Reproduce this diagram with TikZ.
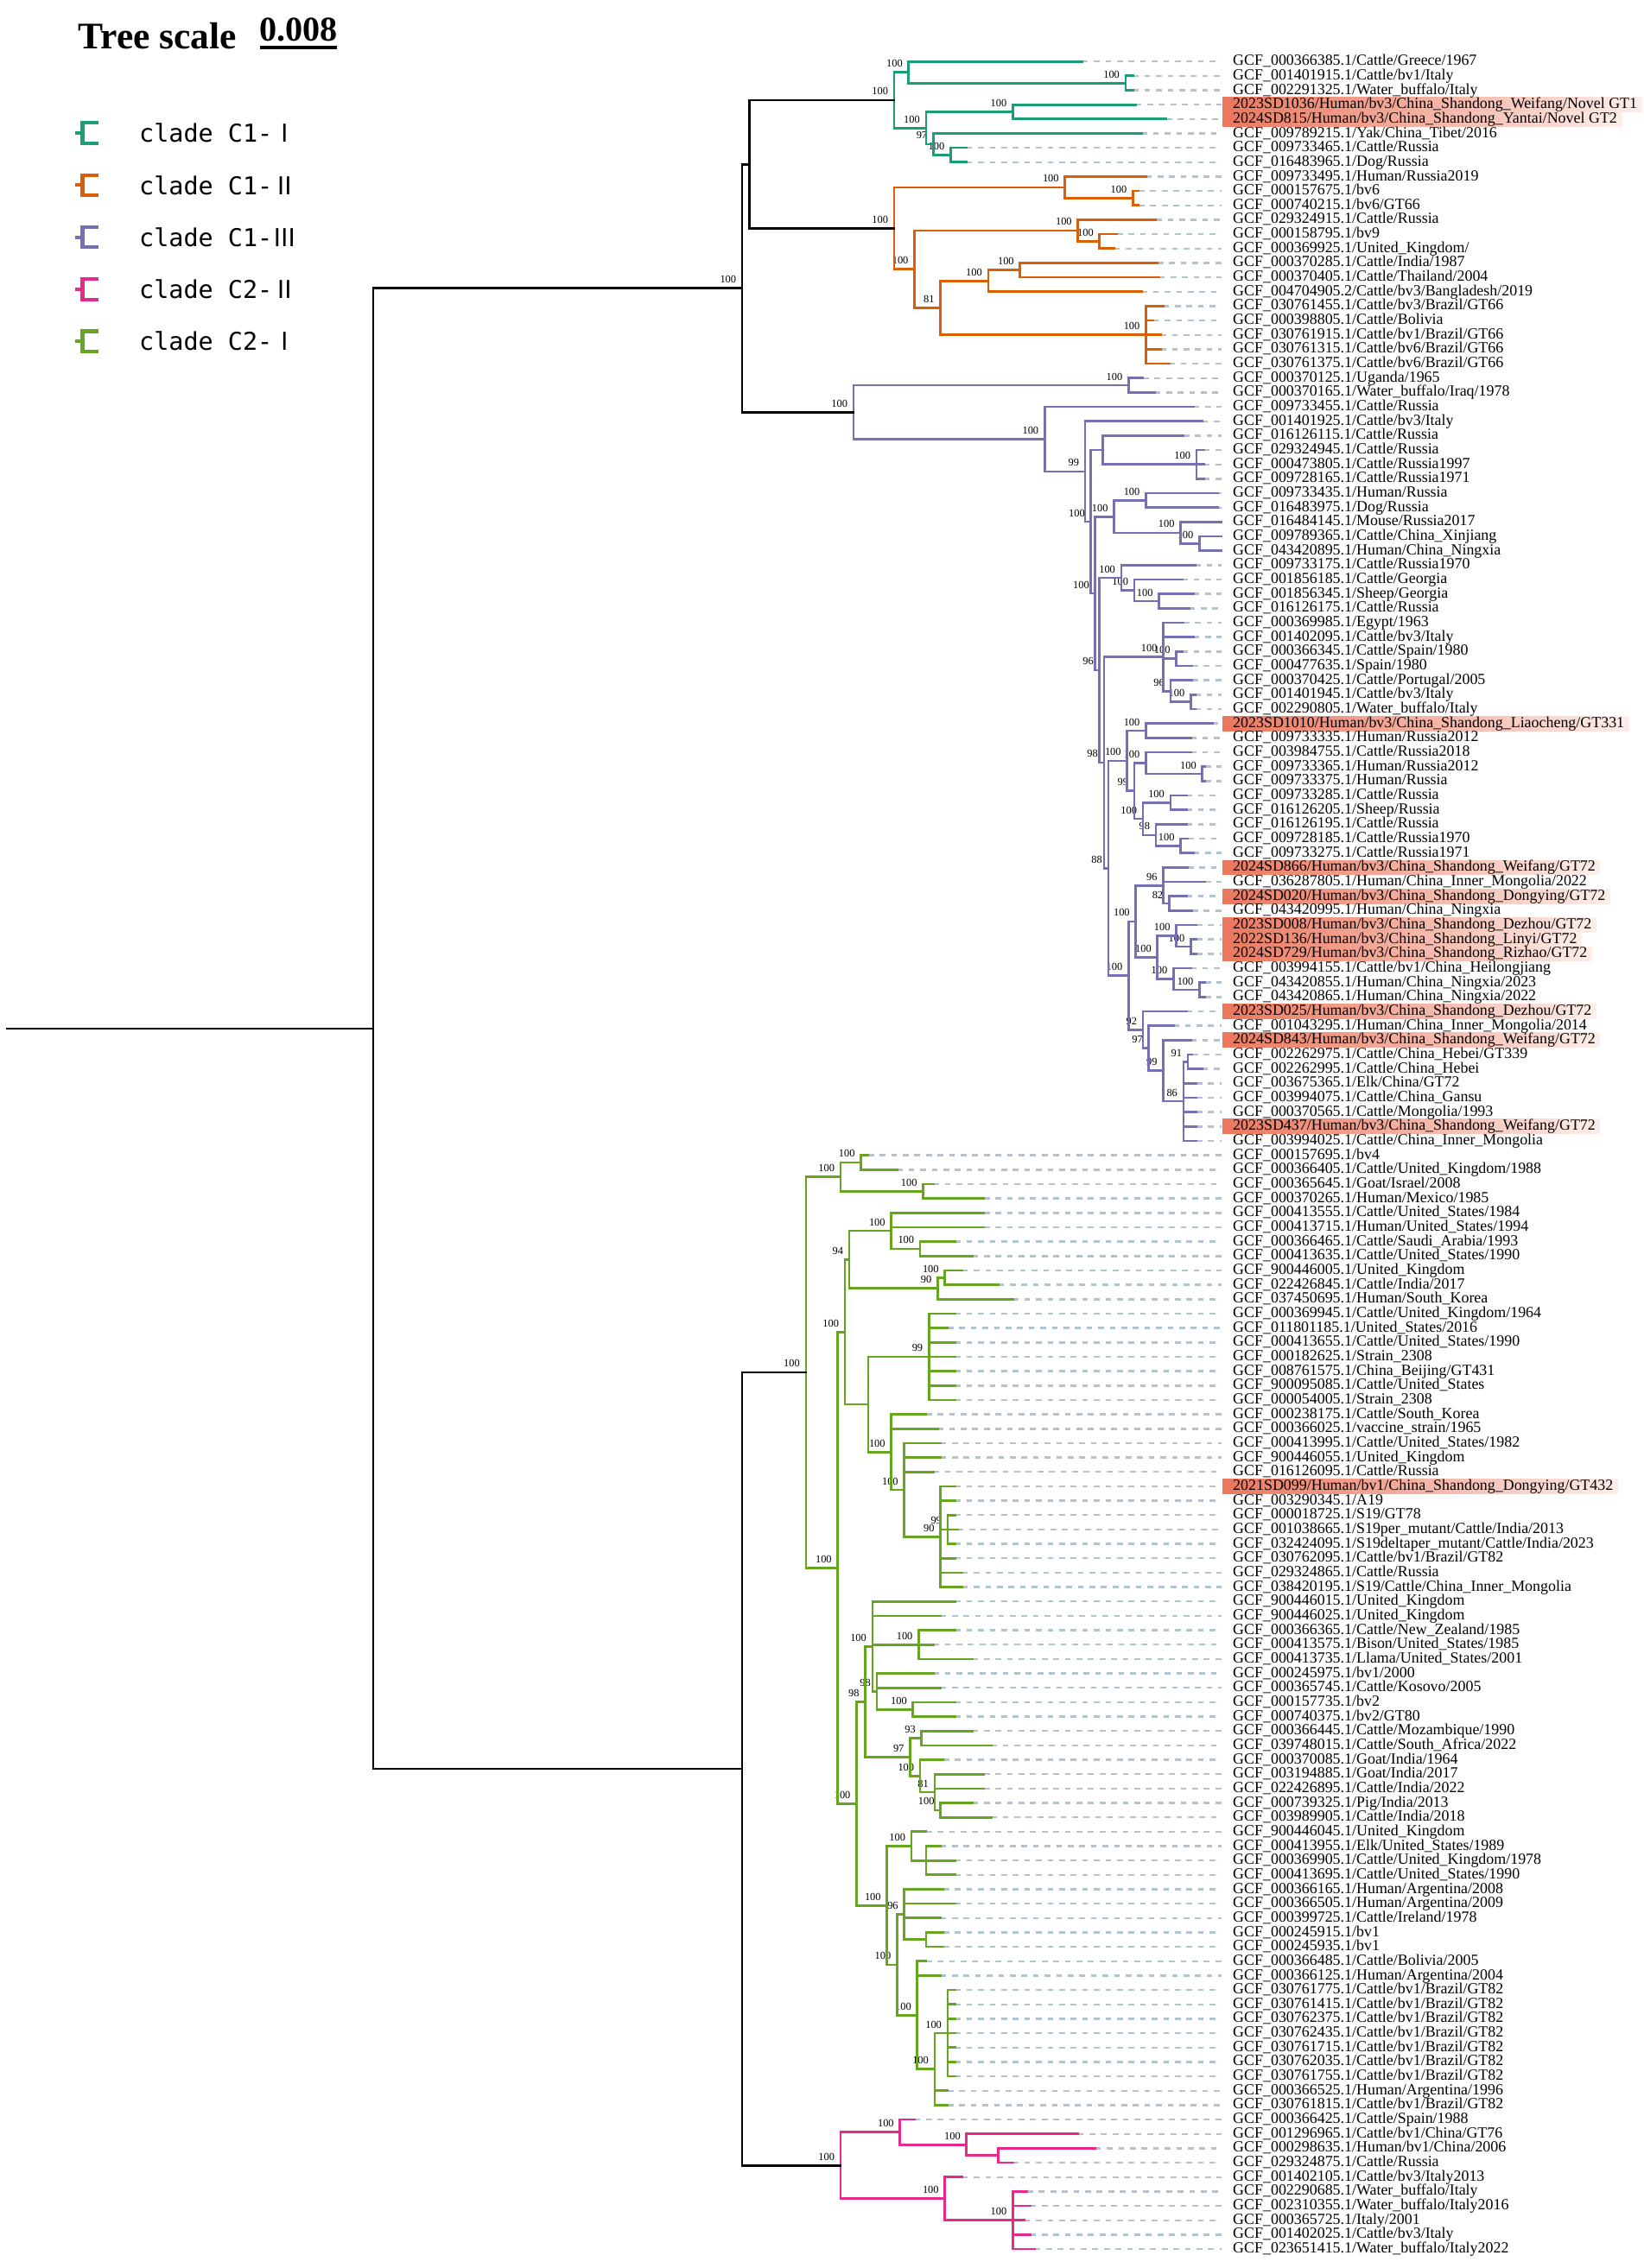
\documentclass[tikz,border=0pt]{standalone}
\usepackage{fontspec}
\setmainfont{Liberation Serif}
\newfontfamily\cjk{Noto Sans CJK SC}
\newfontfamily\legf{DejaVu Sans Mono}
\usetikzlibrary{calc}
\pgfdeclarelayer{background}
\pgfsetlayers{background,main}
\definecolor{cA}{HTML}{1B9E77}
\definecolor{cB}{HTML}{D95F02}
\definecolor{cC}{HTML}{7570B3}
\definecolor{cD}{HTML}{E7298A}
\definecolor{cE}{HTML}{66A61E}
\definecolor{dashc}{HTML}{B4C2CB}
\definecolor{hlA}{RGB}{236,118,92}
\definecolor{hlB}{RGB}{253,238,234}
\newcommand\LY[1]{\pgfmathsetmacro\yy{42.5+(#1-1)*9.95}}
\newcommand\leafx[3]{\LY{#1}\coordinate (L#1) at (#2,\yy);
  \draw[dsh] (L#1) -- (844,\yy);
  \node[lab] (T#1) at (852,\yy) {#3};}
\newcommand\leafh[3]{\LY{#1}\coordinate (L#1) at (#2,\yy);
  \draw[dsh] (L#1) -- (844,\yy);
  \node[lab] (T#1) at (852,\yy) {#3};
  \begin{pgfonlayer}{background}
  \shade[left color=hlA,right color=hlB] (845,\yy-4.975) rectangle ($(T#1.east)+(3,4.975)$);
  \end{pgfonlayer}}
\newcommand\inode[5][black]{%
  \foreach \c [count=\i] in {#4}{\ifnum\i=1 \xdef\ndfirst{\c}\fi \xdef\ndlast{\c}}%
  \path let \p1=(\ndfirst),\p2=(\ndlast) in coordinate (#2) at (#3pt,{0.5*\y1+0.5*\y2});
  \draw[br,#1] (#2 |- \ndfirst) -- (#2 |- \ndlast);
  \foreach \c in {#4}{\draw[br,#1] (#2 |- \c) -- (\c);}
  \if\relax\detokenize{#5}\relax\else\node[bsl] (b#2) at ([xshift=-4pt,yshift=6pt]#2) {#5};\fi}
\begin{document}
\begin{tikzpicture}[x=1pt,y=-1pt,
  br/.style={line width=1.6pt,line cap=rect},
  dsh/.style={dashc,line width=1.5pt,dash pattern=on 4pt off 4pt},
  lab/.style={anchor=west,inner sep=0pt,text height=7.6pt,text depth=2.2pt,font=\fontsize{10.7}{11}\selectfont},
  bsl/.style={anchor=east,inner sep=0pt,font=\fontsize{7.4}{8}\selectfont}]
\useasboundingbox (0,0) rectangle (1136,1568);
% legend
\node[anchor=west,inner sep=0pt,font=\bfseries\fontsize{26}{28}\selectfont] (ts) at (54,25) {Tree scale};
\node[anchor=south,inner sep=0pt,font=\bfseries\fontsize{24}{26}\selectfont] (sc) at (206.5,29) {0.008};
\coordinate (sl) at (180,33); \coordinate (sr) at (233,33);
\draw[line width=2.5pt] (sl) -- (sr);
\foreach \yy/\cc/\tt [count=\k] in {92/cA/C1-{\cjk Ⅰ},128/cB/C1-{\cjk Ⅱ},164/cC/C1-{\cjk Ⅲ},200/cD/C2-{\cjk Ⅱ},236/cE/C2-{\cjk Ⅰ}}{
  \draw[\cc,line width=2.5pt] (52,\yy) -- (57,\yy) (68,\yy-7) -- (57,\yy-7) -- (57,\yy+7) -- (68,\yy+7);
  \node[anchor=west,inner sep=0pt,font=\legf\fontsize{17}{20}\selectfont] (lg\k) at (96,\yy) {clade \tt};
}
% leaves
\leafx{1}{748}{GCF\_000366385.1/Cattle/Greece/1967}
\leafx{2}{783}{GCF\_001401915.1/Cattle/bv1/Italy}
\leafx{3}{783}{GCF\_002291325.1/Water\_buffalo/Italy}
\leafh{4}{785}{2023SD1036/Human/bv3/China\_Shandong\_Weifang/Novel GT1}
\leafh{5}{806}{2024SD815/Human/bv3/China\_Shandong\_Yantai/Novel GT2}
\leafx{6}{789}{GCF\_009789215.1/Yak/China\_Tibet/2016}
\leafx{7}{668}{GCF\_009733465.1/Cattle/Russia}
\leafx{8}{668}{GCF\_016483965.1/Dog/Russia}
\leafx{9}{792}{GCF\_009733495.1/Human/Russia2019}
\leafx{10}{787}{GCF\_000157675.1/bv6}
\leafx{11}{787}{GCF\_000740215.1/bv6/GT66}
\leafx{12}{799}{GCF\_029324915.1/Cattle/Russia}
\leafx{13}{772}{GCF\_000158795.1/bv9}
\leafx{14}{770}{GCF\_000369925.1/United\_Kingdom/}
\leafx{15}{800}{GCF\_000370285.1/Cattle/India/1987}
\leafx{16}{801}{GCF\_000370405.1/Cattle/Thailand/2004}
\leafx{17}{789}{GCF\_004704905.2/Cattle/bv3/Bangladesh/2019}
\leafx{18}{804}{GCF\_030761455.1/Cattle/bv3/Brazil/GT66}
\leafx{19}{797}{GCF\_000398805.1/Cattle/Bolivia}
\leafx{20}{802}{GCF\_030761915.1/Cattle/bv1/Brazil/GT66}
\leafx{21}{802}{GCF\_030761315.1/Cattle/bv6/Brazil/GT66}
\leafx{22}{808}{GCF\_030761375.1/Cattle/bv6/Brazil/GT66}
\leafx{23}{790}{GCF\_000370125.1/Uganda/1965}
\leafx{24}{798}{GCF\_000370165.1/Water\_buffalo/Iraq/1978}
\leafx{25}{825}{GCF\_009733455.1/Cattle/Russia}
\leafx{26}{831}{GCF\_001401925.1/Cattle/bv3/Italy}
\leafx{27}{818}{GCF\_016126115.1/Cattle/Russia}
\leafx{28}{832}{GCF\_029324945.1/Cattle/Russia}
\leafx{29}{832}{GCF\_000473805.1/Cattle/Russia1997}
\leafx{30}{832}{GCF\_009728165.1/Cattle/Russia1971}
\leafx{31}{842}{GCF\_009733435.1/Human/Russia}
\leafx{32}{842}{GCF\_016483975.1/Dog/Russia}
\leafx{33}{844}{GCF\_016484145.1/Mouse/Russia2017}
\leafx{34}{844}{GCF\_009789365.1/Cattle/China\_Xinjiang}
\leafx{35}{844}{GCF\_043420895.1/Human/China\_Ningxia}
\leafx{36}{826}{GCF\_009733175.1/Cattle/Russia1970}
\leafx{37}{817}{GCF\_001856185.1/Cattle/Georgia}
\leafx{38}{825}{GCF\_001856345.1/Sheep/Georgia}
\leafx{39}{822}{GCF\_016126175.1/Cattle/Russia}
\leafx{40}{818}{GCF\_000369985.1/Egypt/1963}
\leafx{41}{825}{GCF\_001402095.1/Cattle/bv3/Italy}
\leafx{42}{817}{GCF\_000366345.1/Cattle/Spain/1980}
\leafx{43}{824}{GCF\_000477635.1/Spain/1980}
\leafx{44}{824}{GCF\_000370425.1/Cattle/Portugal/2005}
\leafx{45}{826}{GCF\_001401945.1/Cattle/bv3/Italy}
\leafx{46}{826}{GCF\_002290805.1/Water\_buffalo/Italy}
\leafh{47}{838}{2023SD1010/Human/bv3/China\_Shandong\_Liaocheng/GT331}
\leafx{48}{823}{GCF\_009733335.1/Human/Russia2012}
\leafx{49}{823}{GCF\_003984755.1/Cattle/Russia2018}
\leafx{50}{833}{GCF\_009733365.1/Human/Russia2012}
\leafx{51}{833}{GCF\_009733375.1/Human/Russia}
\leafx{52}{820}{GCF\_009733285.1/Cattle/Russia}
\leafx{53}{820}{GCF\_016126205.1/Sheep/Russia}
\leafx{54}{820}{GCF\_016126195.1/Cattle/Russia}
\leafx{55}{821}{GCF\_009728185.1/Cattle/Russia1970}
\leafx{56}{825}{GCF\_009733275.1/Cattle/Russia1971}
\leafh{57}{821}{2024SD866/Human/bv3/China\_Shandong\_Weifang/GT72}
\leafx{58}{833}{GCF\_036287805.1/Human/China\_Inner\_Mongolia/2022}
\leafh{59}{820}{2024SD020/Human/bv3/China\_Shandong\_Dongying/GT72}
\leafx{60}{824}{GCF\_043420995.1/Human/China\_Ningxia}
\leafh{61}{827}{2023SD008/Human/bv3/China\_Shandong\_Dezhou/GT72}
\leafh{62}{827}{2022SD136/Human/bv3/China\_Shandong\_Linyi/GT72}
\leafh{63}{827}{2024SD729/Human/bv3/China\_Shandong\_Rizhao/GT72}
\leafx{64}{823}{GCF\_003994155.1/Cattle/bv1/China\_Heilongjiang}
\leafx{65}{833}{GCF\_043420855.1/Human/China\_Ningxia/2023}
\leafx{66}{833}{GCF\_043420865.1/Human/China\_Ningxia/2022}
\leafh{67}{820}{2023SD025/Human/bv3/China\_Shandong\_Dezhou/GT72}
\leafx{68}{811}{GCF\_001043295.1/Human/China\_Inner\_Mongolia/2014}
\leafh{69}{823}{2024SD843/Human/bv3/China\_Shandong\_Weifang/GT72}
\leafx{70}{824}{GCF\_002262975.1/Cattle/China\_Hebei/GT339}
\leafx{71}{831}{GCF\_002262995.1/Cattle/China\_Hebei}
\leafx{72}{827}{GCF\_003675365.1/Elk/China/GT72}
\leafx{73}{827}{GCF\_003994075.1/Cattle/China\_Gansu}
\leafx{74}{827}{GCF\_000370565.1/Cattle/Mongolia/1993}
\leafh{75}{827}{2023SD437/Human/bv3/China\_Shandong\_Weifang/GT72}
\leafx{76}{827}{GCF\_003994025.1/Cattle/China\_Inner\_Mongolia}
\leafx{77}{600}{GCF\_000157695.1/bv4}
\leafx{78}{620}{GCF\_000366405.1/Cattle/United\_Kingdom/1988}
\leafx{79}{645}{GCF\_000365645.1/Goat/Israel/2008}
\leafx{80}{680}{GCF\_000370265.1/Human/Mexico/1985}
\leafx{81}{680}{GCF\_000413555.1/Cattle/United\_States/1984}
\leafx{82}{680}{GCF\_000413715.1/Human/United\_States/1994}
\leafx{83}{660}{GCF\_000366465.1/Cattle/Saudi\_Arabia/1993}
\leafx{84}{672}{GCF\_000413635.1/Cattle/United\_States/1990}
\leafx{85}{665}{GCF\_900446005.1/United\_Kingdom}
\leafx{86}{690}{GCF\_022426845.1/Cattle/India/2017}
\leafx{87}{700}{GCF\_037450695.1/Human/South\_Korea}
\leafx{88}{660}{GCF\_000369945.1/Cattle/United\_Kingdom/1964}
\leafx{89}{655}{GCF\_011801185.1/United\_States/2016}
\leafx{90}{660}{GCF\_000413655.1/Cattle/United\_States/1990}
\leafx{91}{660}{GCF\_000182625.1/Strain\_2308}
\leafx{92}{660}{GCF\_008761575.1/China\_Beijing/GT431}
\leafx{93}{660}{GCF\_900095085.1/Cattle/United\_States}
\leafx{94}{660}{GCF\_000054005.1/Strain\_2308}
\leafx{95}{640}{GCF\_000238175.1/Cattle/South\_Korea}
\leafx{96}{648}{GCF\_000366025.1/vaccine\_strain/1965}
\leafx{97}{650}{GCF\_000413995.1/Cattle/United\_States/1982}
\leafx{98}{650}{GCF\_900446055.1/United\_Kingdom}
\leafx{99}{645}{GCF\_016126095.1/Cattle/Russia}
\leafh{100}{660}{2021SD099/Human/bv1/China\_Shandong\_Dongying/GT432}
\leafx{101}{660}{GCF\_003290345.1/A19}
\leafx{102}{660}{GCF\_000018725.1/S19/GT78}
\leafx{103}{662}{GCF\_001038665.1/S19per\_mutant/Cattle/India/2013}
\leafx{104}{660}{GCF\_032424095.1/S19deltaper\_mutant/Cattle/India/2023}
\leafx{105}{660}{GCF\_030762095.1/Cattle/bv1/Brazil/GT82}
\leafx{106}{665}{GCF\_029324865.1/Cattle/Russia}
\leafx{107}{665}{GCF\_038420195.1/S19/Cattle/China\_Inner\_Mongolia}
\leafx{108}{660}{GCF\_900446015.1/United\_Kingdom}
\leafx{109}{650}{GCF\_900446025.1/United\_Kingdom}
\leafx{110}{660}{GCF\_000366365.1/Cattle/New\_Zealand/1985}
\leafx{111}{645}{GCF\_000413575.1/Bison/United\_States/1985}
\leafx{112}{672}{GCF\_000413735.1/Llama/United\_States/2001}
\leafx{113}{645}{GCF\_000245975.1/bv1/2000}
\leafx{114}{650}{GCF\_000365745.1/Cattle/Kosovo/2005}
\leafx{115}{660}{GCF\_000157735.1/bv2}
\leafx{116}{660}{GCF\_000740375.1/bv2/GT80}
\leafx{117}{672}{GCF\_000366445.1/Cattle/Mozambique/1990}
\leafx{118}{685}{GCF\_039748015.1/Cattle/South\_Africa/2022}
\leafx{119}{652}{GCF\_000370085.1/Goat/India/1964}
\leafx{120}{680}{GCF\_003194885.1/Goat/India/2017}
\leafx{121}{680}{GCF\_022426895.1/Cattle/India/2022}
\leafx{122}{672}{GCF\_000739325.1/Pig/India/2013}
\leafx{123}{685}{GCF\_003989905.1/Cattle/India/2018}
\leafx{124}{640}{GCF\_900446045.1/United\_Kingdom}
\leafx{125}{650}{GCF\_000413955.1/Elk/United\_States/1989}
\leafx{126}{660}{GCF\_000369905.1/Cattle/United\_Kingdom/1978}
\leafx{127}{660}{GCF\_000413695.1/Cattle/United\_States/1990}
\leafx{128}{652}{GCF\_000366165.1/Human/Argentina/2008}
\leafx{129}{660}{GCF\_000366505.1/Human/Argentina/2009}
\leafx{130}{650}{GCF\_000399725.1/Cattle/Ireland/1978}
\leafx{131}{652}{GCF\_000245915.1/bv1}
\leafx{132}{652}{GCF\_000245935.1/bv1}
\leafx{133}{640}{GCF\_000366485.1/Cattle/Bolivia/2005}
\leafx{134}{650}{GCF\_000366125.1/Human/Argentina/2004}
\leafx{135}{660}{GCF\_030761775.1/Cattle/bv1/Brazil/GT82}
\leafx{136}{660}{GCF\_030761415.1/Cattle/bv1/Brazil/GT82}
\leafx{137}{660}{GCF\_030762375.1/Cattle/bv1/Brazil/GT82}
\leafx{138}{660}{GCF\_030762435.1/Cattle/bv1/Brazil/GT82}
\leafx{139}{660}{GCF\_030761715.1/Cattle/bv1/Brazil/GT82}
\leafx{140}{660}{GCF\_030762035.1/Cattle/bv1/Brazil/GT82}
\leafx{141}{660}{GCF\_030761755.1/Cattle/bv1/Brazil/GT82}
\leafx{142}{655}{GCF\_000366525.1/Human/Argentina/1996}
\leafx{143}{655}{GCF\_030761815.1/Cattle/bv1/Brazil/GT82}
\leafx{144}{632}{GCF\_000366425.1/Cattle/Spain/1988}
\leafx{145}{745}{GCF\_001296965.1/Cattle/bv1/China/GT76}
\leafx{146}{757}{GCF\_000298635.1/Human/bv1/China/2006}
\leafx{147}{700}{GCF\_029324875.1/Cattle/Russia}
\leafx{148}{665}{GCF\_001402105.1/Cattle/bv3/Italy2013}
\leafx{149}{710}{GCF\_002290685.1/Water\_buffalo/Italy}
\leafx{150}{712}{GCF\_002310355.1/Water\_buffalo/Italy2016}
\leafx{151}{708}{GCF\_000365725.1/Italy/2001}
\leafx{152}{712}{GCF\_001402025.1/Cattle/bv3/Italy}
\leafx{153}{715}{GCF\_023651415.1/Water\_buffalo/Italy2022}
% clade C1-I
\inode[cA]{g23}{778}{L2,L3}{100}
\inode[cA]{g1}{628}{L1,g23}{100}
\inode[cA]{g45}{700}{L4,L5}{100}
\inode[cA]{g78}{657}{L7,L8}{100}
\inode[cA]{g68}{645}{L6,g78}{97}
\inode[cA]{g2}{640}{g45,g68}{100}
\inode[cA]{g0}{618}{g1,g2}{100}
% clade C1-II
\inode[cB]{o1011}{783}{L10,L11}{100}
\inode[cB]{oa1}{736}{L9,o1011}{100}
\inode[cB]{o1314}{760}{L13,L14}{100}
\inode[cB]{oa2}{745}{L12,o1314}{100}
\inode[cB]{o1516}{705}{L15,L16}{100}
\inode[cB]{ob1}{683}{o1516,L17}{100}
\inode[cB]{ob2}{792}{L18,L19,L20,L21,L22}{100}
\inode[cB]{ob}{650}{ob1,ob2}{81}
\inode[cB]{or1}{632}{oa2,ob}{100}
\inode[cB]{o0}{618}{oa1,or1}{100}
% clade C1-III
\inode[cC]{p1}{780}{L23,L24}{100}
\inode[cC]{p2830}{827}{L28,L29,L30}{100}
\inode[cC]{p4a}{762}{L27,p2830}{}
\inode[cC]{p3132}{792}{L31,L32}{100}
\inode[cC]{p3435}{829}{L34,L35}{100}
\inode[cC]{p3335}{816}{L33,p3435}{100}
\inode[cC]{p3135}{770}{p3132,p3335}{100}
\inode[cC]{p3839}{801}{L38,L39}{100}
\inode[cC]{p3739}{784}{L37,p3839}{100}
\inode[cC]{p5a}{775}{L36,p3739}{100}
\inode[cC]{p4243}{813}{L42,L43}{100}
\inode[cC]{p4546}{823}{L45,L46}{100}
\inode[cC]{p4446}{809}{L44,p4546}{96}
\inode[cC]{px40}{804}{L40,L41,p4243,p4446}{100}
\inode[cC]{p4748}{792}{L47,L48}{100}
\inode[cC]{p5051}{831}{L50,L51}{100}
\inode[cC]{p4951}{792}{L49,p5051}{100}
\inode[cC]{p5253}{809}{L52,L53}{100}
\inode[cC]{p5556}{816}{L55,L56}{100}
\inode[cC]{p5456}{799}{L54,p5556}{98}
\inode[cC]{p5256}{790}{p5253,p5456}{100}
\inode[cC]{p4956}{784}{p4951,p5256}{99}
\inode[cC]{p7a}{779}{p4748,p4956}{100}
\inode[cC]{p5960}{808}{L59,L60}{82}
\inode[cC]{p5760}{804}{L57,L58,p5960}{96}
\inode[cC]{p6263}{823}{L62,L63}{100}
\inode[cC]{p6163}{813}{L61,p6263}{100}
\inode[cC]{p6566}{829}{L65,L66}{100}
\inode[cC]{p6466}{811}{L64,p6566}{100}
\inode[cC]{p6166}{800}{p6163,p6466}{100}
\inode[cC]{p8a}{785}{p5760,p6166}{100}
\inode[cC]{p7071}{821}{L70,L71}{91}
\inode[cC]{p11}{818}{p7071,L72,L73,L74,L75,L76}{86}
\inode[cC]{p10}{804}{L69,p11}{99}
\inode[cC]{p9}{794}{L68,p10}{97}
\inode[cC]{p8b}{790}{L67,p9}{92}
\inode[cC]{p8}{780}{p8a,p8b}{100}
\inode[cC]{p7}{766}{p7a,p8}{88}
\inode[cC]{p6}{763}{px40,p7}{98}
\inode[cC]{p5}{760}{p5a,p6}{96}
\inode[cC]{p4b}{757}{p3135,p5}{100}
\inode[cC]{p4}{754}{p4a,p4b}{100}
\inode[cC]{p3}{750}{L26,p4}{99}
\inode[cC]{p2}{722}{L25,p3}{100}
\inode[cC]{p0}{590}{p1,p2}{100}
% clade C2-I
\inode[cE]{e7778}{595}{L77,L78}{100}
\inode[cE]{e7980}{638}{L79,L80}{100}
\inode[cE]{ea}{581}{e7778,e7980}{100}
\inode[cE]{e8384}{636}{L83,L84}{100}
\inode[cE]{e8184}{616}{L81,L82,e8384}{100}
\inode[cE]{e8586}{653}{L85,L86}{100}
\inode[cE]{e8587}{648}{e8586,L87}{90}
\inode[cE]{e8187}{587}{e8184,e8587}{94}
\inode[cE]{e8894}{642}{L88,L89,L90,L91,L92,L93,L94}{99}
\inode[cE]{e102}{655}{L102,L103,L104}{99}
\inode[cE]{e100}{650}{L100,L101,e102,L105,L106,L107}{90}
\inode[cE]{e97}{625}{L97,L98,L99,e100}{100}
\inode[cE]{e95}{616}{L95,L96,e97}{100}
\inode[cE]{e88}{600}{e8894,e95}{}
\inode[cE]{eb1}{584}{e8187,e88}{100}
\inode[cE]{e110}{635}{L110,L111,L112}{100}
\inode[cE]{e115}{631}{L115,L116}{100}
\inode[cE]{e113}{606}{L113,L114,e115}{98}
\inode[cE]{e108}{603}{L108,L109,e110,e113}{100}
\inode[cE]{e117}{637}{L117,L118}{93}
\inode[cE]{e122}{650}{L122,L123}{100}
\inode[cE]{e120}{646}{L120,L121,e122}{81}
\inode[cE]{e119}{636}{L119,e120}{100}
\inode[cE]{e117b}{629}{e117,e119}{97}
\inode[cE]{e108b}{598}{e108,e117b}{98}
\inode[cE]{e125}{640}{L125,L126,L127}{}
\inode[cE]{e124}{630}{L124,e125}{100}
\inode[cE]{e131}{640}{L131,L132}{}
\inode[cE]{e128}{625}{L128,L129,L130,e131}{96}
\inode[cE]{e135}{655}{L135,L136,L137,L138,L139,L140,L141}{100}
\inode[cE]{e135b}{646}{e135,L142,L143}{100}
\inode[cE]{e133}{634}{L133,L134,e135b}{100}
\inode[cE]{e128b}{620}{e128,e133}{100}
\inode[cE]{e124b}{613}{e124,e128b}{100}
\inode[cE]{eb2}{592}{e108b,e124b}{100}
\inode[cE]{eb}{579}{eb1,eb2}{100}
\inode[cE]{e0}{557}{ea,eb}{100}
% clade C2-II
\inode[cD]{k146}{690}{L146,L147}{}
\inode[cD]{k145}{668}{L145,k146}{100}
\inode[cD]{k1}{622}{L144,k145}{100}
\inode[cD]{k149}{700}{L149,L150,L151,L152,L153}{100}
\inode[cD]{k2}{653}{L148,k149}{100}
\inode[cD]{k0}{581}{k1,k2}{100}
% backbone
\inode{c1a}{518}{g0,o0}{}
\inode{c1}{513}{c1a,p0}{100}
\inode{c2}{513}{e0,k0}{}
\inode{rt}{258}{c1,c2}{}
\path let \p1=(rt) in coordinate (root) at (5pt,\y1);
\draw[br] (root) -- (rt);
\end{tikzpicture}
\end{document}
